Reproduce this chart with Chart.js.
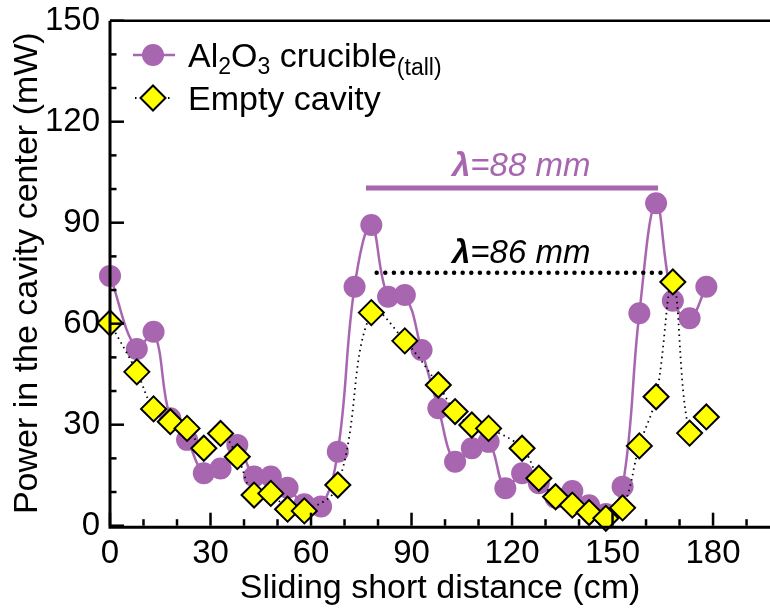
<!DOCTYPE html>
<html>
<head>
<meta charset="utf-8">
<script src="https://cdn.jsdelivr.net/npm/chart.js@4.4.1/dist/chart.umd.min.js"></script>
<style>
html,body{margin:0;padding:0;background:#fff;overflow:hidden;}
</style>
</head>
<body>
<canvas id="myChart" width="770" height="612"></canvas>
<script>
// sliding short position (cm) and power (mW)
const alX = [0,8,13,18,23,28,33,38,43,48,53,58,63,68,73,78,83,88,93,98,103,108,113,118,123,128,133,138,143,148,153,158,163,168,173,178];
const alY = [74.2,52.5,57.6,31.9,25.5,15.6,17.0,24.0,14.6,14.6,11.3,6.4,5.7,22.0,71.0,89.3,68.0,68.5,52.2,34.9,19.0,23.0,24.9,11.1,15.6,12.6,8.3,10.3,6.1,3.5,11.6,63.1,95.8,66.8,61.6,71.0];
const emX = [0,8,13,18,23,28,33,38,43,48,53,58,68,78,88,98,103,108,113,123,128,133,138,143,148,153,158,163,168,173,178];
const emY = [60.2,45.7,34.7,30.9,28.9,23.0,27.4,20.5,9.1,9.6,4.9,4.4,12.1,63.3,54.9,41.8,33.9,29.9,28.9,23.0,14.1,8.6,6.1,3.9,2.2,5.3,23.7,38.3,72.4,27.5,32.3];
const xTicks = [0,30,60,90,120,150,180];
const yTicks = [0,30,60,90,120,150];

const purple = '#a865b0';
const fam = '"Liberation Sans", Arial, sans-serif';

function toPts(xs, ys) {
  return xs.map(function (x, i) { return {x: x, y: ys[i]}; });
}

// axes with inward ticks, top frame line, lambda marks and the legend
const extras = {
  id: 'extras',
  afterDraw: function (chart) {
    const c = chart.ctx;
    const a = chart.chartArea;
    const xs = chart.scales.x, ys = chart.scales.y;
    c.save();
    c.strokeStyle = '#000';
    c.lineCap = 'butt';

    // ticks
    c.lineWidth = 2.5;
    for (let v = 0; v <= 190; v += 10) {
      const px = xs.getPixelForValue(v);
      const len = v % 30 === 0 ? 13 : 6.5;
      c.beginPath(); c.moveTo(px, a.bottom); c.lineTo(px, a.bottom - len); c.stroke();
    }
    for (let v = 0; v <= 150; v += 10) {
      const py = ys.getPixelForValue(v);
      const len = v % 30 === 0 ? 14 : 6.5;
      c.beginPath(); c.moveTo(a.left, py); c.lineTo(a.left + len, py); c.stroke();
    }
    // axis lines
    c.lineWidth = 3;
    c.beginPath(); c.moveTo(a.left, a.top); c.lineTo(a.left, a.bottom + 1.5); c.lineTo(a.right, a.bottom + 1.5); c.stroke();
    c.lineWidth = 2.5;
    c.beginPath(); c.moveTo(a.left, a.top); c.lineTo(a.right, a.top); c.stroke();

    // lambda = 88 mm (purple, solid)
    c.strokeStyle = purple;
    c.lineWidth = 5;
    c.beginPath();
    c.moveTo(xs.getPixelForValue(76.4), ys.getPixelForValue(100.3));
    c.lineTo(xs.getPixelForValue(163.6), ys.getPixelForValue(100.3));
    c.stroke();
    // lambda = 86 mm (black, dots)
    c.strokeStyle = '#000';
    c.lineWidth = 4.5;
    c.lineCap = 'round';
    c.setLineDash([0, 8.6]);
    c.beginPath();
    c.moveTo(xs.getPixelForValue(79.6), ys.getPixelForValue(75.1));
    c.lineTo(xs.getPixelForValue(165.7), ys.getPixelForValue(75.1));
    c.stroke();
    c.setLineDash([]);

    function lamText(txt, x, y, col) {
      c.fillStyle = col;
      c.textBaseline = 'alphabetic';
      c.textAlign = 'left';
      c.font = 'italic bold 33px ' + fam;
      c.fillText('\u03bb', x, y);
      const w = c.measureText('\u03bb').width;
      c.font = 'italic 33px ' + fam;
      c.fillText(txt, x + w, y);
    }
    lamText('=88 mm', 452, 176, purple);
    lamText('=86 mm', 452, 263, '#000');

    // legend
    c.lineCap = 'butt';
    c.strokeStyle = purple;
    c.lineWidth = 2.5;
    c.beginPath(); c.moveTo(133, 55); c.lineTo(175, 55); c.stroke();
    c.fillStyle = purple;
    c.beginPath(); c.arc(153, 55, 11, 0, Math.PI * 2); c.fill();

    c.strokeStyle = '#000';
    c.lineWidth = 1.8;
    c.setLineDash([1.5, 4]);
    c.beginPath(); c.moveTo(135, 98); c.lineTo(173, 98); c.stroke();
    c.setLineDash([]);
    c.fillStyle = '#ffff00';
    c.lineWidth = 2;
    c.beginPath();
    c.moveTo(153 - 12.5, 98); c.lineTo(153, 98 - 12.5); c.lineTo(153 + 12.5, 98); c.lineTo(153, 98 + 12.5); c.closePath();
    c.fill(); c.stroke();

    c.fillStyle = '#000';
    c.textAlign = 'left';
    c.textBaseline = 'alphabetic';
    const parts = [['Al', 34, 0], ['2', 23, 7], ['O', 34, 0], ['3', 23, 7], [' crucible', 34, 0], ['(tall)', 23, 8]];
    let tx = 188;
    parts.forEach(function (p) {
      c.font = p[1] + 'px ' + fam;
      c.fillText(p[0], tx, 67 + p[2]);
      tx += c.measureText(p[0]).width;
    });
    c.font = '34px ' + fam;
    c.fillText('Empty cavity', 188, 110);
    c.restore();
  }
};

let myChart = document.getElementById('myChart').getContext('2d');

let lineChart = new Chart(myChart, {
  type: 'line',
  data: {
    datasets: [{
      label: 'Al2O3 crucible(tall)',
      data: toPts(alX, alY),
      borderColor: purple,
      backgroundColor: purple,
      borderWidth: 2.5,
      pointStyle: 'circle',
      pointRadius: 11,
      pointBorderWidth: 0,
      tension: 0.4,
      order: 2,
      clip: false
    }, {
      label: 'Empty cavity',
      data: toPts(emX, emY),
      borderColor: '#000',
      borderWidth: 1.8,
      borderDash: [1.5, 4],
      pointStyle: 'rectRot',
      pointRadius: 12.5,
      pointBackgroundColor: '#ffff00',
      pointBorderColor: '#000',
      pointBorderWidth: 2,
      tension: 0.4,
      order: 1,
      clip: false
    }]
  },
  options: {
    responsive: false,
    animation: false,
    layout: {autoPadding: false, padding: {top: 20.7, right: 0, left: 0, bottom: 0}},
    plugins: {legend: {display: false}, tooltip: {enabled: false}},
    scales: {
      x: {
        type: 'linear', min: 0, max: 197,
        grid: {display: false, drawTicks: false},
        border: {display: false},
        afterBuildTicks: function (s) { s.ticks = xTicks.map(function (v) { return {value: v}; }); },
        afterFit: function (s) { s.height = 86.3; s.paddingLeft = 0; s.paddingRight = 0; },
        ticks: {font: {family: fam, size: 33}, color: '#000', padding: 8, maxRotation: 0, autoSkip: false},
        title: {display: true, text: 'Sliding short distance (cm)', color: '#000',
                font: {family: fam, size: 34, lineHeight: 1.2}, padding: {top: 0, bottom: 3}}
      },
      y: {
        min: 0, max: 150,
        grid: {display: false, drawTicks: false},
        border: {display: false},
        afterBuildTicks: function (s) { s.ticks = yTicks.map(function (v) { return {value: v}; }); },
        afterFit: function (s) { s.width = 110; s.paddingTop = 0; s.paddingBottom = 0; },
        ticks: {font: {family: fam, size: 33}, color: '#000', padding: 10, autoSkip: false},
        title: {display: true, text: 'Power in the cavity center (mW)', color: '#000',
                font: {family: fam, size: 34, lineHeight: 1.2}, padding: {top: 7, bottom: 0}}
      }
    }
  },
  plugins: [extras]
});
</script>
</body>
</html>
